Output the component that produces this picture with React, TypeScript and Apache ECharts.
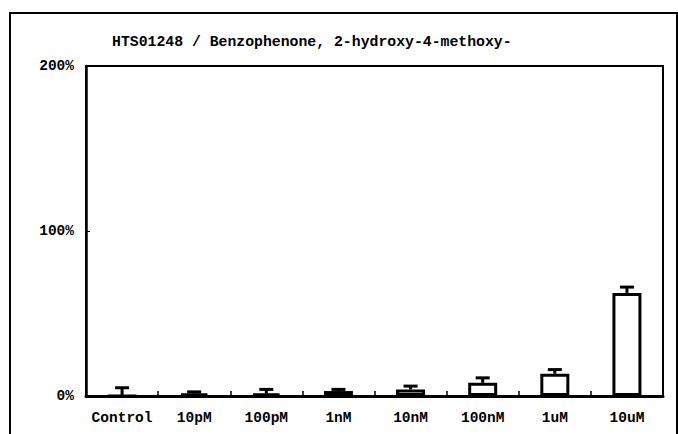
import React, { useEffect, useRef } from "react";
import * as echarts from "echarts";

const categories = ["Control", "10pM", "100pM", "1nM", "10nM", "100nM", "1uM", "10uM"];
const values = [0, 1.5, 1.5, 3, 4, 8, 13.5, 62.5];
const errors = [5, 1, 2.5, 1, 2, 3, 2.5, 3.5];
const yTicks = [0, 100, 200];
const titleText = "HTS01248 / Benzophenone, 2-hydroxy-4-methoxy-";

const FONT = "Liberation Mono";

export default function App() {
  const ref = useRef<HTMLDivElement>(null);
  useEffect(() => {
    if (!ref.current) return;
    const chart = echarts.init(ref.current, null, { renderer: "svg" });
    const errData = categories.map((c, i) => [i, values[i], values[i] + errors[i]]);
    chart.setOption({
      animation: false,
      backgroundColor: "#ffffff",
      title: {
        text: titleText,
        left: 107,
        top: 29,
        textStyle: { fontFamily: FONT, fontSize: 14.8, fontWeight: "bold", color: "#000" },
      },
      graphic: [
        {
          type: "rect",
          shape: { x: 10, y: 13, width: 667, height: 440 },
          style: { fill: "none", stroke: "#000", lineWidth: 2 },
          silent: true,
        },
      ],
      grid: {
        left: 86,
        right: 15,
        top: 66,
        bottom: 38,
        show: true,
        borderColor: "#000",
        borderWidth: 2,
      },
      xAxis: {
        type: "category",
        data: categories,
        axisLine: { show: true, lineStyle: { color: "#000", width: 3 } },
        axisTick: { show: true, inside: true, length: 5, lineStyle: { color: "#000", width: 1.5 } },
        axisLabel: {
          fontFamily: FONT,
          fontSize: 14.5,
          fontWeight: "bold",
          color: "#000",
          margin: 14,
          interval: 0,
        },
      },
      yAxis: {
        type: "value",
        min: yTicks[0],
        max: yTicks[yTicks.length - 1],
        interval: 100,
        axisLine: { show: true, lineStyle: { color: "#000", width: 2.5 } },
        axisTick: { show: true, inside: true, length: 4, lineStyle: { color: "#000", width: 1 } },
        splitLine: { show: false },
        axisLabel: {
          fontFamily: FONT,
          fontSize: 14.5,
          fontWeight: "bold",
          color: "#000",
          margin: 12,
          formatter: "{value}%",
        },
      },
      series: [
        {
          type: "bar",
          data: values,
          barWidth: 29,
          itemStyle: { color: "#ffffff", borderColor: "#000", borderWidth: 3 },
          z: 2,
        },
        {
          type: "custom",
          data: errData,
          z: 3,
          renderItem: (params: any, api: any) => {
            const x = api.value(0);
            const lo = api.coord([x, api.value(1)]);
            const hi = api.coord([x, api.value(2)]);
            const half = 7;
            return {
              type: "group",
              children: [
                {
                  type: "line",
                  shape: { x1: lo[0], y1: lo[1], x2: hi[0], y2: hi[1] },
                  style: { stroke: "#000", lineWidth: 3 },
                },
                {
                  type: "line",
                  shape: { x1: hi[0] - half, y1: hi[1], x2: hi[0] + half, y2: hi[1] },
                  style: { stroke: "#000", lineWidth: 3 },
                },
              ],
            };
          },
        },
      ],
    });
    return () => chart.dispose();
  }, []);
  return (
    <div
      ref={ref}
      style={{ position: "fixed", left: 0, top: 0, width: 678, height: 434, background: "#fff" }}
    />
  );
}
